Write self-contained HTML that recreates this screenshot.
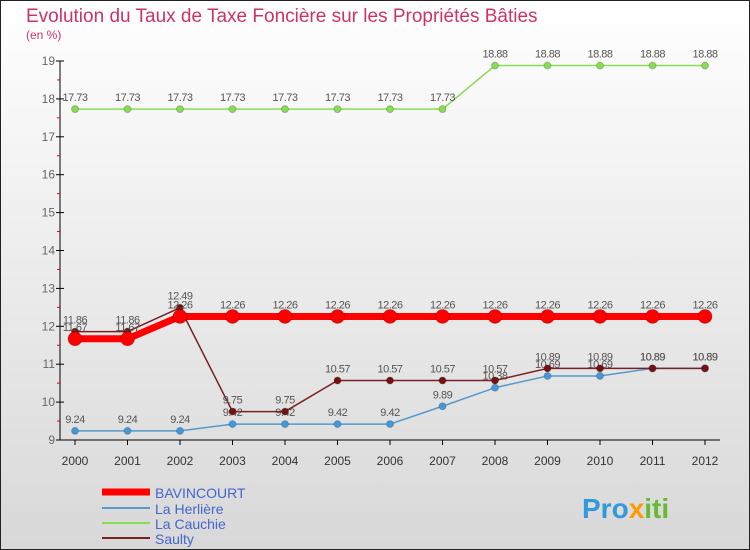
<!DOCTYPE html>
<html><head><meta charset="utf-8"><style>
body{margin:0;}
svg{display:block;font-family:"Liberation Sans",sans-serif;}
</style></head><body>
<svg id="c" width="750" height="550" xmlns="http://www.w3.org/2000/svg">
<defs><linearGradient id="bg" x1="0" y1="0" x2="0" y2="1"><stop offset="0" stop-color="#ffffff"/><stop offset="1" stop-color="#d8d8d8"/></linearGradient></defs>
<rect x="0.5" y="0.5" width="749" height="549" fill="url(#bg)" stroke="#222"/>
<text x="26" y="22" font-size="19" fill="#cc3366">Evolution du Taux de Taxe Foncière sur les Propriétés Bâties</text>
<text x="26" y="39" font-size="12" fill="#cc3366">(en %)</text>
<g id="axes"></g><g id="series"></g>
<g>
<line x1="102" y1="492" x2="150" y2="492" stroke="#ff0000" stroke-width="7"/><text x="155" y="498" font-size="14" fill="#4466cc">BAVINCOURT</text>
<line x1="102" y1="508" x2="150" y2="508" stroke="#5599cc" stroke-width="2"/><text x="155" y="514" font-size="14" fill="#4466cc">La Herlière</text>
<line x1="102" y1="523" x2="150" y2="523" stroke="#88dd55" stroke-width="2"/><text x="155" y="529" font-size="14" fill="#4466cc">La Cauchie</text>
<line x1="102" y1="538" x2="150" y2="538" stroke="#772222" stroke-width="2"/><text x="155" y="544" font-size="14" fill="#4466cc">Saulty</text>
</g>
<text x="582" y="518" font-size="28" font-weight="bold" fill="#3399dd">Pro<tspan fill="#ff9900">x</tspan><tspan fill="#66bb33">iti</tspan></text>
</svg>
<script>
const years=[2000,2001,2002,2003,2004,2005,2006,2007,2008,2009,2010,2011,2012];
const yTicks=[9,10,11,12,13,14,15,16,17,18,19];
const bavincourt=[11.67,11.67,12.26,12.26,12.26,12.26,12.26,12.26,12.26,12.26,12.26,12.26,12.26];
const laHerliere=[9.24,9.24,9.24,9.42,9.42,9.42,9.42,9.89,10.38,10.69,10.69,10.89,10.89];
const laCauchie=[17.73,17.73,17.73,17.73,17.73,17.73,17.73,17.73,18.88,18.88,18.88,18.88,18.88];
const saulty=[11.86,11.86,12.49,9.75,9.75,10.57,10.57,10.57,10.57,10.89,10.89,10.89,10.89];
const NS="http://www.w3.org/2000/svg";
const X=i=>75+i*52.5, Y=v=>440-(v-9)*37.9;
function mk(t,a,p){const e=document.createElementNS(NS,t);for(const k in a)e.setAttribute(k,a[k]);p.appendChild(e);return e;}
const ax=document.getElementById('axes'), se=document.getElementById('series');
let l=mk('line',{x1:60,y1:Y(19),x2:60,y2:440,stroke:'#000'},ax);


l=mk('line',{x1:60,y1:440,x2:720,y2:440,stroke:'#000'},ax);


yTicks.forEach(v=>{mk('line',{x1:56,y1:Y(v),x2:64,y2:Y(v),stroke:'#000'},ax);
 if(v<19)mk('line',{x1:57,y1:Y(v+.5),x2:60,y2:Y(v+.5),stroke:'#e00'},ax);
 const t=mk('text',{x:55,y:Y(v)+4,'font-size':12,fill:'#666','text-anchor':'end'},ax);t.textContent=v;
 
 });
years.forEach((y,i)=>{mk('line',{x1:X(i),y1:440,x2:X(i),y2:445,stroke:'#000'},ax);
 const t=mk('text',{x:X(i),y:465,'font-size':12,fill:'#333','text-anchor':'middle'},ax);t.textContent=y;
 
 });
function draw(vals,color,w,r,name,fill){
 const g=mk('g',{},se);
 
 
 mk('polyline',{points:vals.map((v,i)=>X(i)+','+Y(v)).join(' '),fill:'none',stroke:color,'stroke-width':w},g);
 vals.forEach((v,i)=>{const c=mk('circle',{cx:X(i),cy:Y(v),r:r,fill:fill,stroke:'#0003'},g);
  
  
  const t=mk('text',{x:X(i),y:Y(v)-8,'font-size':11,fill:'#555','text-anchor':'middle','letter-spacing':'-0.5'},g);t.textContent=v;});
}
draw(laCauchie,'#88dd55',1.5,3.5,'la-cauchie-series','#88dd55');
draw(laHerliere,'#5599cc',1.5,3.5,'la-herliere-series','#4499dd');
draw(saulty,'#772222',1.5,3.5,'saulty-series','#771111');
draw(bavincourt,'#ff0000',7,7,'bavincourt-series','#ff0000');
</script>
</body></html>
